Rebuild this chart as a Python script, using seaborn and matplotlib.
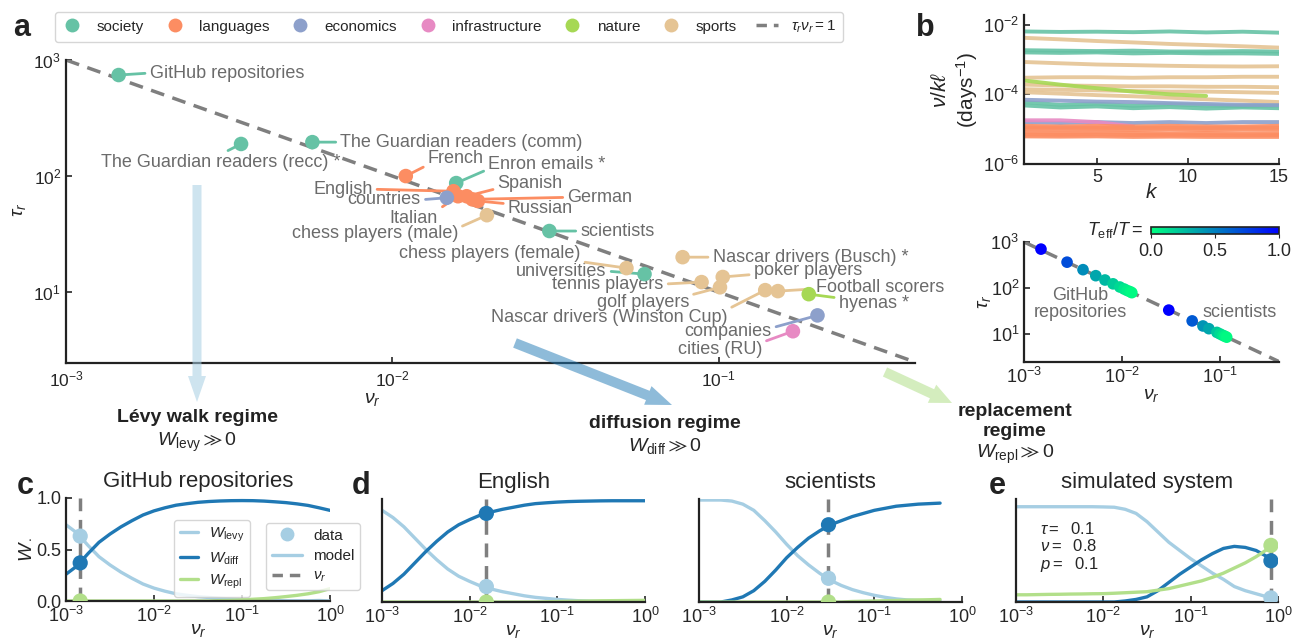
import numpy as np
import pandas as pd
import seaborn as sns
import matplotlib
matplotlib.use("Agg")
import matplotlib.pyplot as plt
from matplotlib import ticker
from matplotlib.lines import Line2D
from matplotlib.patches import FancyArrow
from matplotlib.transforms import IdentityTransform

# ---------------- panel a: tau_r vs nu_r for every dataset ----------------
categories = ["society", "languages", "economics", "infrastructure", "nature", "sports"]
names = ["GitHub repositories", "The Guardian readers (recc) *", "The Guardian readers (comm)",
         "Enron emails *", "scientists", "universities",
         "French", "English", "Italian", "Spanish", "German", "Russian",
         "countries", "companies", "cities (RU)", "hyenas *",
         "chess players (male)", "chess players (female)", "Nascar drivers (Busch) *",
         "tennis players", "poker players", "golf players",
         "Nascar drivers (Winston Cup)", "Football scorers"]
groups = ["society"] * 6 + ["languages"] * 6 + ["economics", "economics", "infrastructure", "nature"] + ["sports"] * 8
nu_r = [1.45e-3, 3.44e-3, 5.69e-3, 1.57e-2, 3.03e-2, 5.93e-2,
        1.10e-2, 1.54e-2, 1.59e-2, 1.69e-2, 1.76e-2, 1.83e-2,
        1.47e-2, 0.201, 0.169, 0.189,
        1.95e-2, 5.22e-2, 7.76e-2, 8.87e-2, 0.103, 0.101, 0.139, 0.152]
tau_r = [742, 189, 196, 87, 33.6, 14.3,
         100, 74, 67, 67, 63, 61,
         65, 6.3, 4.6, 9.6,
         46, 16.1, 20.0, 12.2, 13.5, 11.0, 10.4, 10.2]

# ---------------- panel b (top): nu/(k l) vs k ----------------
k_grid = [1, 3, 5, 7, 9, 11, 13, 15]
b_groups = ["society", "sports", "society", "society", "sports", "sports", "nature",
            "sports", "sports", "sports", "economics", "society", "society",
            "infrastructure", "economics",
            "languages", "languages", "languages", "languages", "languages", "languages"]
b_values = [
    [6.4e-3, 6.2e-3, 6.3e-3, 6.1e-3, 6.4e-3, 6.0e-3, 6.3e-3, 5.9e-3],
    [4.2e-3, 3.8e-3, 3.4e-3, 3.1e-3, 2.8e-3, 2.6e-3, 2.4e-3, 2.2e-3],
    [1.85e-3, 1.8e-3, 1.75e-3, 1.8e-3, 1.7e-3, 1.7e-3, 1.75e-3, 1.7e-3],
    [1.6e-3, 1.55e-3, 1.6e-3, 1.5e-3, 1.55e-3, 1.5e-3, 1.5e-3, 1.45e-3],
    [8.5e-4, 7.8e-4, 7.2e-4, 6.9e-4, 6.6e-4, 6.4e-4, 6.3e-4, 6.4e-4],
    [3.0e-4, 3.1e-4, 3.1e-4, 3.0e-4, 3.1e-4, 3.1e-4, 3.2e-4, 3.2e-4],
    [2.5e-4, 1.9e-4, 1.5e-4, 1.2e-4, 1.0e-4, 9.0e-5],
    [1.9e-4, 1.8e-4, 1.75e-4, 1.7e-4, 1.7e-4, 1.65e-4, 1.65e-4, 1.6e-4],
    [1.4e-4, 1.35e-4, 1.3e-4, 1.25e-4, 1.2e-4, 1.2e-4, 1.15e-4, 1.1e-4],
    [1.15e-4, 1.05e-4, 9.5e-5, 8.8e-5, 8.0e-5, 7.2e-5, 6.6e-5, 6.0e-5],
    [7.0e-5, 6.6e-5, 6.2e-5, 6.0e-5, 5.6e-5, 5.3e-5, 5.0e-5, 4.9e-5],
    [6.0e-5, 5.0e-5, 5.4e-5, 4.7e-5, 5.2e-5, 4.8e-5, 4.6e-5, 4.8e-5],
    [4.8e-5, 4.2e-5, 4.5e-5, 4.0e-5, 4.3e-5, 3.9e-5, 4.2e-5, 4.0e-5],
    [1.8e-5, 1.8e-5, 1.6e-5, 1.2e-5],
    [1.6e-5, 1.5e-5, 1.6e-5, 1.5e-5, 1.6e-5, 1.5e-5, 1.6e-5, 1.6e-5],
    [1.25e-5, 1.2e-5, 1.25e-5, 1.2e-5, 1.25e-5, 1.2e-5, 1.2e-5, 1.25e-5],
    [1.12e-5, 1.1e-5, 1.1e-5, 1.08e-5, 1.1e-5, 1.08e-5, 1.1e-5, 1.1e-5],
    [1.0e-5, 9.8e-6, 1.0e-5, 9.6e-6, 9.8e-6, 9.6e-6, 9.8e-6, 9.6e-6],
    [8.0e-6, 7.8e-6, 8.0e-6, 7.8e-6, 7.6e-6, 7.8e-6, 7.6e-6, 7.6e-6],
    [7.0e-6, 6.9e-6, 7.0e-6, 6.8e-6, 6.9e-6, 6.8e-6, 6.7e-6, 6.8e-6],
    [6.2e-6, 6.1e-6, 6.2e-6, 6.0e-6, 6.1e-6, 6.0e-6, 6.0e-6, 6.0e-6],
]

# ---------------- panel b (bottom): collapse coloured by T_eff/T ----------------
coll_nu = [1.49e-3, 2.75e-3, 4.0e-3, 5.4e-3, 6.7e-3, 8.1e-3, 9.5e-3, 1.05e-2, 1.13e-2, 1.21e-2, 1.26e-2,
           3.0e-2, 5.2e-2, 6.7e-2, 7.7e-2, 9.3e-2, 0.100, 0.107, 0.112, 0.117]
coll_tau = [700, 364, 250, 185, 149, 123, 105, 95, 88, 83, 79,
            33, 19.2, 14.9, 13.0, 10.8, 10.0, 9.3, 8.9, 8.5]
coll_teff = [1.0, 0.7, 0.45, 0.35, 0.28, 0.2, 0.15, 0.1, 0.07, 0.04, 0.02,
             1.0, 0.65, 0.42, 0.35, 0.22, 0.15, 0.1, 0.05, 0.02]

# ---------------- panels c-e: W weights vs nu_r (read every 1/8 decade) ----------------
log_grid = [-3.0, -2.875, -2.75, -2.625, -2.5, -2.375, -2.25, -2.125, -2.0, -1.875, -1.75, -1.625,
            -1.5, -1.375, -1.25, -1.125, -1.0, -0.875, -0.75, -0.625, -0.5, -0.375, -0.25, -0.125, 0.0]
github_levy = [0.74, 0.66, 0.54, 0.43, 0.35, 0.28, 0.22, 0.165, 0.125, 0.095, 0.07, 0.055, 0.042,
               0.034, 0.025, 0.019, 0.013, 0.009, 0.007, 0.005, 0.002, 0.002, 0.002, 0.005, 0.0]
github_diff = [0.26, 0.34, 0.46, 0.57, 0.65, 0.72, 0.78, 0.835, 0.875, 0.905, 0.93, 0.945, 0.958,
               0.966, 0.971, 0.974, 0.975, 0.974, 0.97, 0.963, 0.955, 0.943, 0.928, 0.905, 0.88]
github_repl = [0] * 14 + [0.004, 0.007, 0.012, 0.017, 0.023, 0.032, 0.043, 0.055, 0.07, 0.09, 0.12]
english_levy = [0.89, 0.82, 0.73, 0.62, 0.51, 0.41, 0.32, 0.25, 0.20, 0.155, 0.125, 0.10, 0.08,
                0.06, 0.045, 0.035, 0.025, 0.018, 0.012, 0.008, 0.005, 0.003, 0.002, 0.001, 0.0]
english_diff = [0.11, 0.18, 0.27, 0.38, 0.49, 0.59, 0.68, 0.75, 0.80, 0.845, 0.875, 0.90, 0.92,
                0.94, 0.955, 0.963, 0.97, 0.975, 0.978, 0.98, 0.982, 0.983, 0.983, 0.983, 0.983]
english_repl = [0] * 15 + [0.002, 0.005, 0.007, 0.009, 0.01, 0.012, 0.013, 0.014, 0.015, 0.016]
# scientists curves stop at 10^-0.25
sci_levy = [0.99, 0.99, 0.99, 0.98, 0.95, 0.89, 0.79, 0.68, 0.56, 0.45, 0.36, 0.28, 0.21,
            0.16, 0.12, 0.09, 0.065, 0.045, 0.03, 0.02, 0.015, 0.01, 0.008]
sci_diff = [0, 0, 0, 0.02, 0.05, 0.11, 0.20, 0.31, 0.43, 0.53, 0.62, 0.69, 0.75,
            0.79, 0.83, 0.86, 0.89, 0.91, 0.93, 0.94, 0.95, 0.955, 0.96]
sci_repl = [0] * 14 + [0.005, 0.007, 0.01, 0.012, 0.015, 0.018, 0.02, 0.022, 0.025]
# simulated system curves stop at its nu_r
log_grid_sim = log_grid[:-1] + [-0.08]
sim_levy = [0.925, 0.925, 0.925, 0.925, 0.925, 0.925, 0.925, 0.925, 0.923, 0.92, 0.90, 0.86, 0.78,
            0.68, 0.58, 0.50, 0.42, 0.35, 0.28, 0.22, 0.15, 0.11, 0.08, 0.05, 0.045]
sim_diff = [0, 0, 0, 0, 0, 0, 0, 0, 0, 0.0, 0.01, 0.025, 0.05,
            0.11, 0.19, 0.27, 0.34, 0.41, 0.47, 0.52, 0.54, 0.53, 0.50, 0.44, 0.40]
sim_repl = [0.07, 0.07, 0.072, 0.074, 0.075, 0.077, 0.078, 0.08, 0.081, 0.085, 0.09, 0.095, 0.10,
            0.115, 0.13, 0.155, 0.18, 0.205, 0.24, 0.28, 0.33, 0.38, 0.44, 0.51, 0.55]

# measured points (nu_r, W_levy, W_diff, W_repl)
pt_github = [1.45e-3, 0.63, 0.37, 0.0]
pt_english = [1.55e-2, 0.15, 0.86, 0.0]
pt_sci = [3.0e-2, 0.23, 0.75, 0.0]
pt_sim = [0.83, 0.04, 0.40, 0.55]

# ---------------- styling ----------------
sns.set_style("ticks")
plt.rcParams["font.family"] = ["Liberation Sans", "DejaVu Sans"]
plt.rcParams["mathtext.fontset"] = "custom"
plt.rcParams["mathtext.rm"] = "Liberation Sans"
plt.rcParams["mathtext.it"] = "Liberation Sans:italic"
plt.rcParams["mathtext.bf"] = "Liberation Sans:bold"
plt.rcParams["mathtext.fallback"] = "stixsans"
plt.rcParams["xtick.direction"] = "in"
plt.rcParams["ytick.direction"] = "in"
plt.rcParams["axes.linewidth"] = 1.6
plt.rcParams["axes.edgecolor"] = "#222222"

set2 = sns.color_palette("Set2", 8)
cat_colors = dict(zip(categories, [set2[0], set2[1], set2[2], set2[3], set2[4], set2[6]]))
w_colors = {"levy": "#a6cee3", "diff": "#1f78b4", "repl": "#b2df8a"}
dash_col = "#7f7f7f"
label_col = "#6b6b6b"

W, H = 1292, 641
fig = plt.figure(figsize=(W / 100, H / 100), dpi=100)


def box(l, t, r, b):
    return [l / W, 1 - b / H, (r - l) / W, (b - t) / H]


def ftext(x, y, s, **kw):
    fig.text(x / W, 1 - y / H, s, **kw)


def log_ticks(ax, which="both"):
    if which in ("x", "both"):
        ax.xaxis.set_major_locator(ticker.LogLocator(base=10, numticks=10))
        ax.xaxis.set_minor_locator(ticker.NullLocator())
    if which in ("y", "both"):
        ax.yaxis.set_major_locator(ticker.LogLocator(base=10, numticks=10))
        ax.yaxis.set_minor_locator(ticker.NullLocator())


# ---------------- panel a ----------------
ax_a = fig.add_axes(box(66, 60, 915, 363))
df_a = pd.DataFrame({"name": names, "group": groups, "nu": nu_r, "tau": tau_r})
line_nu = np.array([1e-3, 0.4])
ax_a.plot(line_nu, 1 / line_nu, color=dash_col, lw=2.5, dashes=(4, 2.5), zorder=1)

label_layout = {
    "GitHub repositories": (31, 2, "left", (0, 0.5)),
    "The Guardian readers (recc) *": (99, -19, "right", (0.5, 1)),
    "The Guardian readers (comm)": (28, 0, "left", (0, 0.5)),
    "Enron emails *": (32, 19, "left", (0, 0.2)),
    "scientists": (31, 0, "left", (0, 0.5)),
    "universities": (-38, 3, "right", (1, 0.5)),
    "French": (22, 18, "left", (0, 0.1)),
    "English": (-81, 2, "right", (1, 0.5)),
    "Italian": (-20, -22, "right", (1, 1)),
    "Spanish": (31, 13, "left", (0, 0.2)),
    "German": (95, 2, "left", (0, 0.5)),
    "Russian": (30, -8, "left", (0, 0.8)),
    "countries": (-26, -2, "right", (1, 0.5)),
    "companies": (-46, -16, "right", (1, 0.7)),
    "cities (RU)": (-31, -18, "right", (1, 0.9)),
    "hyenas *": (30, -9, "left", (0, 0.8)),
    "chess players (male)": (-29, -18, "right", (1, 0.8)),
    "chess players (female)": (-46, 15, "right", (1, 0)),
    "Nascar drivers (Busch) *": (30, 0, "left", (0, 0.5)),
    "tennis players": (-38, -2, "right", (1, 0.5)),
    "poker players": (31, 6, "left", (0, 0.3)),
    "golf players": (-31, -15, "right", (1, 0.9)),
    "Nascar drivers (Winston Cup)": (-38, -27, "right", (1, 0.95)),
    "Football scorers": (38, 4, "left", (0, 0.4)),
}
for _, row in df_a.iterrows():
    dx, dy, ha, rel = label_layout[row["name"]]
    ax_a.annotate(row["name"], xy=(row["nu"], row["tau"]), xytext=(dx, dy),
                  textcoords="offset pixels", ha=ha, va="center", fontsize=13, color=label_col,
                  arrowprops=dict(arrowstyle="-", color=cat_colors[row["group"]], lw=2,
                                  shrinkA=1, shrinkB=0, relpos=rel), zorder=2)
sns.scatterplot(data=df_a, x="nu", y="tau", hue="group", hue_order=categories, palette=cat_colors,
                s=110, edgecolor="none", legend=False, ax=ax_a, zorder=4)
ax_a.set_xscale("log")
ax_a.set_yscale("log")
ax_a.set_xlim(1e-3, 0.4)
ax_a.set_ylim(2.45, 1000)
log_ticks(ax_a)
ax_a.tick_params(labelsize=12.5, length=4, width=1.2)
ax_a.tick_params(axis="x", pad=5)
ax_a.set_xlabel("")
ax_a.set_ylabel("")
sns.despine(ax=ax_a)
ftext(372, 400, r"$\nu_r$", fontsize=14, ha="center", va="center")
ftext(20, 210, r"$\tau_r$", fontsize=14, ha="center", va="center", rotation=90)

handles = [Line2D([], [], marker="o", ls="none", markersize=10, markerfacecolor=cat_colors[c],
                  markeredgecolor="none", label=c) for c in categories]
handles.append(Line2D([], [], color=dash_col, lw=2.5, dashes=(3, 2), label=r"$\tau_r\nu_r = 1$"))
fig.legend(handles=handles, loc="center", bbox_to_anchor=(449 / W, 1 - 27 / H), ncol=7,
           fontsize=11, frameon=True, handletextpad=0.9, columnspacing=1.3, borderpad=0.45,
           handlelength=1.4, edgecolor="#cccccc")

# ---------------- panel b top ----------------
ax_b1 = fig.add_axes(box(1024, 15, 1279, 164))
rows = []
for i, (g, vals) in enumerate(zip(b_groups, b_values)):
    for k, v in zip(k_grid, vals):
        rows.append({"series": i, "group": g, "k": k, "val": v})
df_b = pd.DataFrame(rows)
sns.lineplot(data=df_b, x="k", y="val", units="series", estimator=None, hue="group",
             palette=cat_colors, lw=2.8, alpha=0.9, legend=False, ax=ax_b1)
ax_b1.set_yscale("log")
ax_b1.set_ylim(1e-6, 1.9e-2)
ax_b1.set_xlim(1, 15)
ax_b1.yaxis.set_major_locator(ticker.FixedLocator([1e-6, 1e-4, 1e-2]))
ax_b1.yaxis.set_minor_locator(ticker.NullLocator())
ax_b1.set_xticks([5, 10, 15])
ax_b1.tick_params(labelsize=13, length=4, width=1.2)
ax_b1.set_xlabel(r"$k$", fontsize=15, labelpad=-2)
ax_b1.set_ylabel("$\\nu/k\\ell$\n(days$^{-1}$)", fontsize=15, labelpad=2)
sns.despine(ax=ax_b1)

# ---------------- panel b bottom ----------------
ax_b2 = fig.add_axes(box(1024, 242, 1279, 362))
ax_b2.plot(line_nu, 1 / line_nu, color=dash_col, lw=2.5, dashes=(4, 2.5), zorder=1)
df_c = pd.DataFrame({"nu": coll_nu, "tau": coll_tau, "teff": coll_teff})
sns.scatterplot(data=df_c, x="nu", y="tau", hue="teff", palette="winter_r", hue_norm=(0, 1),
                s=70, edgecolor="none", legend=False, ax=ax_b2, zorder=3)
ax_b2.set_xscale("log")
ax_b2.set_yscale("log")
ax_b2.set_xlim(1e-3, 0.4)
ax_b2.set_ylim(2.45, 1000)
log_ticks(ax_b2)
ax_b2.tick_params(labelsize=13, length=4, width=1.2)
ax_b2.set_xlabel(r"$\nu_r$", fontsize=14, labelpad=0)
ax_b2.set_ylabel(r"$\tau_r$", fontsize=14, labelpad=-2)
ax_b2.text(0.22, 0.48, "GitHub\nrepositories", transform=ax_b2.transAxes, ha="center", va="center",
           fontsize=13, color=label_col, linespacing=1.0)
ax_b2.text(0.846, 0.41, "scientists", transform=ax_b2.transAxes, ha="center", va="center",
           fontsize=13, color=label_col)
sns.despine(ax=ax_b2)

cax = fig.add_axes(box(1151, 227, 1279, 234))
sm = matplotlib.cm.ScalarMappable(cmap="winter_r", norm=matplotlib.colors.Normalize(0, 1))
cb = fig.colorbar(sm, cax=cax, orientation="horizontal", ticks=[0, 0.5, 1])
cb.ax.set_xticklabels(["0.0", "0.5", "1.0"])
cb.ax.tick_params(labelsize=13, length=3, direction="out")
cb.outline.set_linewidth(1.2)
ftext(1143, 230, r"$T_\mathrm{eff}/T =$", fontsize=13, ha="right", va="center")


# ---------------- panels c-e ----------------
def weight_panel(rect, lnu, levy, diff, repl, pt, title):
    ax = fig.add_axes(box(*rect))
    n = len(levy)
    nu = np.power(10.0, lnu[:n])
    df = pd.DataFrame({"nu": np.concatenate([nu] * 3),
                       "W": np.concatenate([levy, diff, repl]),
                       "comp": ["levy"] * n + ["diff"] * n + ["repl"] * n})
    ax.axvline(pt[0], color=dash_col, lw=2.5, dashes=(4, 2.5), zorder=1)
    sns.lineplot(data=df, x="nu", y="W", hue="comp", palette=w_colors, lw=2.4,
                 legend=False, ax=ax, zorder=2)
    dfp = pd.DataFrame({"nu": [pt[0]] * 3, "W": pt[1:], "comp": ["levy", "diff", "repl"]})
    sns.scatterplot(data=dfp, x="nu", y="W", hue="comp", palette=w_colors, s=120,
                    edgecolor="none", legend=False, ax=ax, zorder=3)
    ax.set_xscale("log")
    ax.set_xlim(1e-3, 1)
    ax.set_ylim(0, 1.0)
    log_ticks(ax, "x")
    ax.tick_params(labelsize=13, length=4, width=1.2)
    ax.set_xlabel(r"$\nu_r$", fontsize=14, labelpad=-3)
    ax.set_ylabel("")
    ax.set_title(title, fontsize=16, pad=8)
    sns.despine(ax=ax)
    return ax


ax_c = weight_panel((66, 498, 330, 601), log_grid, github_levy, github_diff, github_repl, pt_github,
                    "GitHub repositories")
ax_c.set_yticks([0, 0.5, 1.0])
ax_c.set_ylabel(r"$W_\bullet$", fontsize=14, labelpad=2)

ax_d1 = weight_panel((382, 499, 645, 602), log_grid, english_levy, english_diff, english_repl, pt_english,
                     "English")
ax_d2 = weight_panel((699, 499, 962, 602), log_grid, sci_levy, sci_diff, sci_repl, pt_sci, "scientists")
ax_e = weight_panel((1016, 499, 1278, 602), log_grid_sim, sim_levy, sim_diff, sim_repl, pt_sim,
                    "simulated system")
for ax in (ax_d1, ax_d2, ax_e):
    ax.set_yticks([])
ax_e.text(0.09, 0.53, "$\\tau =$  0.1\n$\\nu =$  0.8\n$p =$  0.1", transform=ax_e.transAxes,
          ha="left", va="center", fontsize=12, linespacing=1.05)

leg1 = [Line2D([], [], color=w_colors[c], lw=2.4, label=lab) for c, lab in
        zip(["levy", "diff", "repl"], [r"$W_\mathrm{levy}$", r"$W_\mathrm{diff}$", r"$W_\mathrm{repl}$"])]
l1 = ax_c.legend(handles=leg1, loc="upper left", bbox_to_anchor=(166 / W, 1 - 512 / H),
                 bbox_transform=fig.transFigure, fontsize=11, handlelength=1.2, handletextpad=0.7,
                 labelspacing=0.4, borderpad=0.4, edgecolor="#cccccc")
ax_c.add_artist(l1)
leg2 = [Line2D([], [], marker="o", ls="none", markersize=10, markerfacecolor=w_colors["levy"],
               markeredgecolor="none", label="data"),
        Line2D([], [], color=w_colors["levy"], lw=2.4, label="model"),
        Line2D([], [], color=dash_col, lw=2.5, dashes=(3, 2), label=r"$\nu_r$")]
ax_c.legend(handles=leg2, loc="upper left", bbox_to_anchor=(258 / W, 1 - 515 / H),
            bbox_transform=fig.transFigure, fontsize=11, handlelength=2.0, handletextpad=0.7,
            labelspacing=0.4, borderpad=0.4, edgecolor="#cccccc")


# ---------------- regime arrows and text ----------------
def arrow(x0, y0, x1, y1, color, width, head_w, head_l, alpha):
    fig.add_artist(FancyArrow(x0, H - y0, x1 - x0, -(y1 - y0), width=width, head_width=head_w,
                              head_length=head_l, length_includes_head=True, color=color,
                              alpha=alpha, lw=0, transform=IdentityTransform()))


arrow(197, 185, 197, 402, w_colors["levy"], 9, 18, 26, 0.55)
arrow(515, 343, 672, 405, w_colors["diff"], 10, 20, 26, 0.5)
arrow(885, 372, 952, 403, w_colors["repl"], 10, 20, 22, 0.55)

ftext(197, 418, "Lévy walk regime", fontsize=14, fontweight="bold", ha="center", va="center", color="#222222")
ftext(197, 442, r"$W_\mathrm{levy} \gg 0$", fontsize=14, ha="center", va="center")
ftext(665, 423, "diffusion regime", fontsize=14, fontweight="bold", ha="center", va="center", color="#222222")
ftext(665, 446, r"$W_\mathrm{diff} \gg 0$", fontsize=14, ha="center", va="center")
ftext(1015, 411, "replacement", fontsize=14, fontweight="bold", ha="center", va="center", color="#222222")
ftext(1015, 432, "regime", fontsize=14, fontweight="bold", ha="center", va="center", color="#222222")
ftext(1015, 454, r"$W_\mathrm{repl} \gg 0$", fontsize=14, ha="center", va="center")

# panel letters
for x, y, s in [(22, 28, "a"), (925, 28, "b"), (25, 486, "c"), (361, 486, "d"), (997, 486, "e")]:
    ftext(x, y, s, fontsize=22, fontweight="bold", ha="center", va="center", color="#222222")

fig.savefig("out.png", dpi=100)
